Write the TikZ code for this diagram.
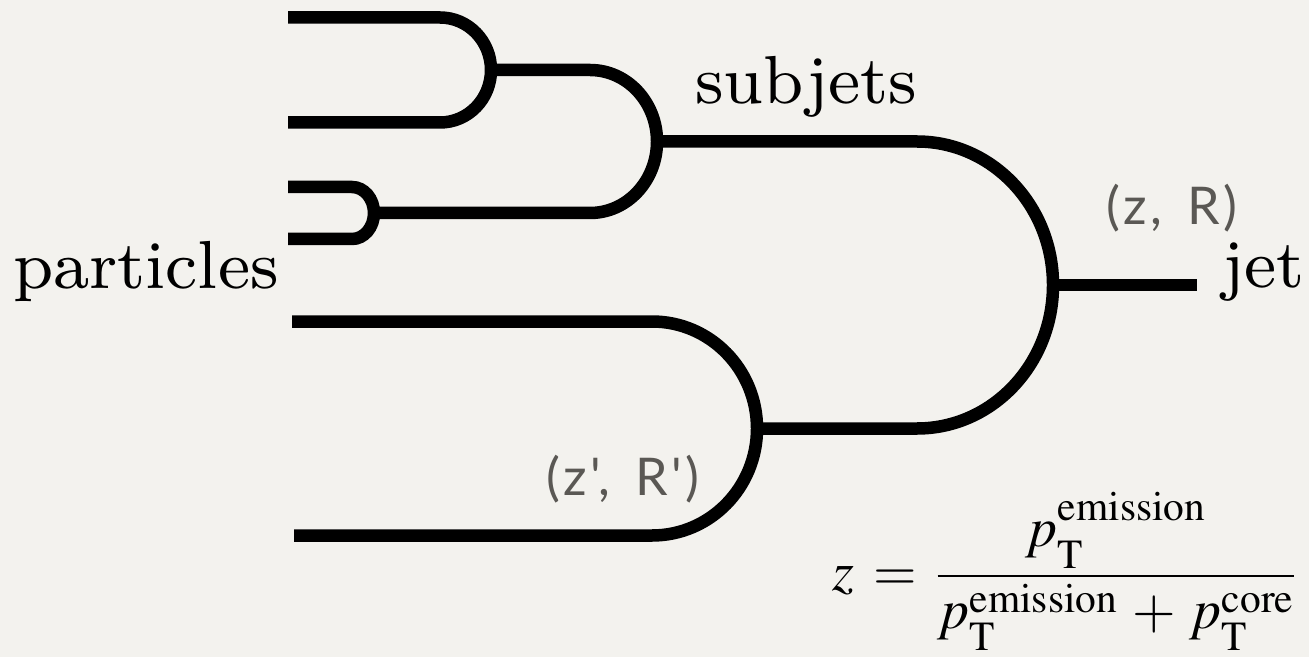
\documentclass[tikz,border=0pt]{standalone}
\usepackage{mathptmx}
\usepackage[no-math]{fontspec}
\newfontfamily\treefont{lmroman8-regular.otf}
\newfontfamily\splitfont{Lato}[Ligatures=TeXOff, LetterSpace=6]
\definecolor{paper}{RGB}{243,242,238}
\definecolor{splitgray}{RGB}{90,88,84}
\newcommand{\pT}[2][0pt]{p_{\raisebox{-4pt}{$\scriptstyle\mathrm{T}$}}^{\raisebox{#1}{$\scriptstyle\mathrm{#2}$}}}

\begin{document}
\begin{tikzpicture}[x=0.5pt, y=-0.5pt,
    branch/.style={line width=6.25pt},
    treelabel/.style={font=\treefont\fontsize{34}{40}\selectfont, inner sep=0pt, anchor=base},
    splitlabel/.style={font=\splitfont\fontsize{26}{30}\selectfont, text=splitgray, inner sep=0pt, anchor=base}]
    \fill[paper] (0,0) rectangle (1309,657);
    \useasboundingbox (0,0) rectangle (1309,657);

    % Leaves
    \coordinate (a1) at (288,17.5);
    \coordinate (a2) at (288,122.5);
    \coordinate (b1) at (288,187);
    \coordinate (b2) at (288,239);
    \coordinate (c1) at (292,321.5);
    \coordinate (c2) at (294,535.5);

    % Splittings
    \coordinate (sa) at (491,70);
    \coordinate (sb) at (374,213);
    \coordinate (sab) at (657,141.5);
    \coordinate (sc) at (757,428.5);
    \coordinate (sjet) at (1053,285);
    \coordinate (jetend) at (1197,285);

    % Branches
    \draw[branch] (a1) -- ++(152,0) arc[start angle=-90, end angle=90, x radius=51, y radius=52.5] -- (a2);
    \draw[branch] (b1) -- ++(64,0) arc[start angle=-90, end angle=90, x radius=22, y radius=26] -- (b2);
    \draw[branch] (sa) -- ++(99,0) arc[start angle=-90, end angle=90, x radius=67, y radius=71.5] -- (sb);
    \draw[branch] (c1) -- ++(360,0) arc[start angle=-90, end angle=90, x radius=105, y radius=107] -- (c2);
    \draw[branch] (sab) -- ++(260,0) arc[start angle=-90, end angle=90, x radius=136, y radius=143.5] -- (sc);
    \draw[branch] (sjet) -- (jetend);

    % Labels
    \node[treelabel] (particles) at (146,289) {particles};
    \node[treelabel] (subjets) at (806,104) {subjets};
    \node[treelabel, anchor=base west] (jet) at (1222,287) {jet};
    \node[splitlabel] (zR) at (1172,225) {(z,\, R)};
    \node[splitlabel] (zRprime) at (623,495) {(z',\, R')};
    \node[inner sep=0pt, anchor=base east, font=\fontsize{28}{32}\selectfont] (zdef) at (1297,590)
        {$z \,=\, \displaystyle\frac{\pT[3pt]{emission}}{\rule{0pt}{22pt}\pT{emission} \,+\, \pT{core}}$};
\end{tikzpicture}
\end{document}
